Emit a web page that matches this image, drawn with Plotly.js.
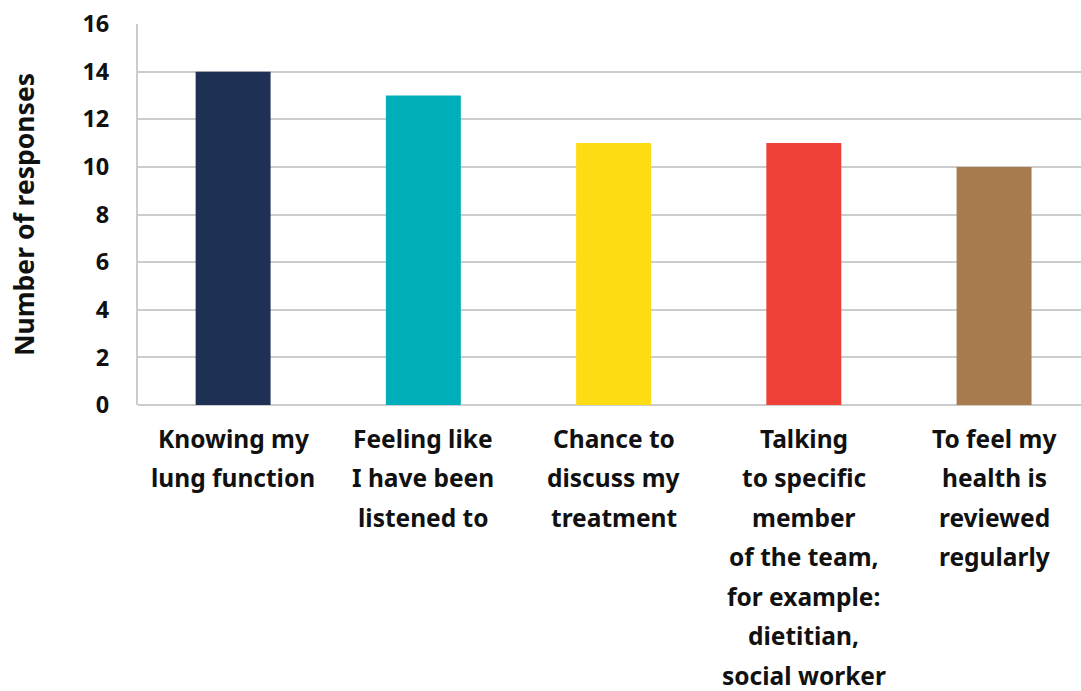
<!DOCTYPE html>
<html><head><meta charset="utf-8">
<script src="https://cdn.plot.ly/plotly-3.0.1.min.js"></script>
<style>html,body{margin:0;padding:0;background:#fff}#chart{width:1081px;height:691px}</style>
</head><body><div id="chart"></div>
<script>
const categories = ["Knowing my lung function","Feeling like I have been listened to","Chance to discuss my treatment","Talking to specific member of the team, for example: dietitian, social worker","To feel my health is reviewed regularly"];
const labelLines = [
  ["Knowing my","lung function"],
  ["Feeling like","I have been","listened to"],
  ["Chance to","discuss my","treatment"],
  ["Talking","to specific","member","of the team,","for example:","dietitian,","social worker"],
  ["To feel my","health is","reviewed","regularly"]
];
const responses = [14, 13, 11, 11, 10];
const barColors = ["#1F3055","#00AFB9","#FDDC14","#EE4036","#A87B4F"];
const yTicks = [0,2,4,6,8,10,12,14,16];

const fontFam = "'Noto Sans', sans-serif";
const annotations = [];
labelLines.forEach((lines, ci) => {
  lines.forEach((ln, li) => {
    annotations.push({
      x: categories[ci], y: 0, xref: 'x', yref: 'y',
      text: '<b>' + ln + '</b>', showarrow: false,
      yshift: -(33 + 39.5 * li), yanchor: 'middle', xanchor: 'center',
      font: {family: fontFam, size: 24.5, color: '#111'}
    });
  });
});

Plotly.newPlot('chart', [{
  type: 'bar', x: categories, y: responses,
  marker: {color: barColors}, width: 0.394, hoverinfo: 'skip'
}], {
  width: 1081, height: 691,
  margin: {l: 138, r: 0, t: 24, b: 286},
  paper_bgcolor: '#fff', plot_bgcolor: '#fff',
  showlegend: false,
  xaxis: {range: [-0.5, 4.457], showticklabels: false, showgrid: false, zeroline: false,
          showline: false, fixedrange: true},
  yaxis: {range: [0, 16], tickvals: yTicks, ticktext: yTicks.map(v => '<b>' + v + '</b>'),
          showgrid: true, gridcolor: '#CCCCCC', gridwidth: 2,
          zeroline: true, zerolinecolor: '#CCCCCC', zerolinewidth: 2,
          showline: true, linecolor: '#CCCCCC', linewidth: 2,
          ticks: 'outside', ticklen: 22, tickcolor: 'rgba(0,0,0,0)',
          tickfont: {family: fontFam, size: 23.5, color: '#111'},
          title: {text: '<b>Number of responses</b>', standoff: 40,
                  font: {family: fontFam, size: 26.5, color: '#111'}},
          automargin: false, fixedrange: true},
  annotations: annotations,
  font: {family: fontFam}
}, {displayModeBar: false, staticPlot: true});
</script></body></html>
